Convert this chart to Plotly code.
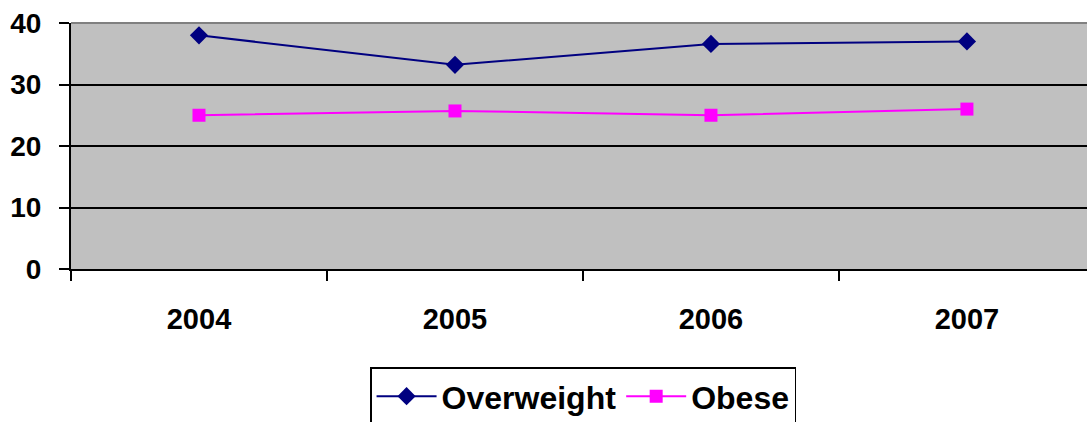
import plotly.graph_objects as go

years = ["2004", "2005", "2006", "2007"]
overweight = [38.0, 33.2, 36.6, 37.0]
obese = [25.0, 25.7, 25.0, 26.0]
y_ticks = [0, 10, 20, 30, 40]

FAMILY = "Liberation Sans, Arial, sans-serif"
tick_font = dict(family=FAMILY, size=28, color="black", weight="bold")
xtick_font = dict(family=FAMILY, size=29, color="black", weight="bold")
legend_font = dict(family=FAMILY, size=32, color="black", weight="bold")

fig = go.Figure()
fig.add_trace(go.Scatter(
    x=years, y=overweight, name="Overweight", mode="lines+markers",
    line=dict(color="#000080", width=2),
    marker=dict(symbol="diamond", size=14, color="#000080"),
))
fig.add_trace(go.Scatter(
    x=years, y=obese, name="Obese", mode="lines+markers",
    line=dict(color="#FF00FF", width=2),
    marker=dict(symbol="square", size=13, color="#FF00FF"),
))

fig.update_layout(
    width=1087, height=422,
    margin=dict(l=71, r=0, t=23, b=153, autoexpand=False),
    paper_bgcolor="white", plot_bgcolor="#C0C0C0",
    font=tick_font,
    showlegend=True,
    legend=dict(
        orientation="h", x=0.504, xanchor="center", y=-0.40, yanchor="top",
        bordercolor="black", borderwidth=1.5, bgcolor="white",
        font=legend_font, itemwidth=60, tracegroupgap=0,
    ),
    xaxis=dict(
        type="category", range=[-0.5, 3.469], automargin=False,
        showline=True, linecolor="black", linewidth=2,
        ticks="outside", tickson="boundaries", ticklen=10, tickwidth=2, tickcolor="black",
        showgrid=False, zeroline=False,
        tickfont=xtick_font, ticklabelstandoff=23,
    ),
    yaxis=dict(
        range=[0, 40], tickvals=y_ticks, automargin=False,
        showline=True, linecolor="black", linewidth=2,
        ticks="outside", ticklen=10, tickwidth=2, tickcolor="black",
        showgrid=True, gridcolor="black", gridwidth=2, zeroline=False,
        tickfont=tick_font, ticklabelstandoff=12,
    ),
    shapes=[dict(type="line", xref="paper", yref="paper", x0=0, x1=1, y0=1, y1=1,
                 line=dict(color="#808080", width=2))],
)

fig.write_html(
    "out.html",
    config=dict(displayModeBar=False),
    post_script="document.body.style.margin='0';document.body.style.overflow='hidden';",
)
